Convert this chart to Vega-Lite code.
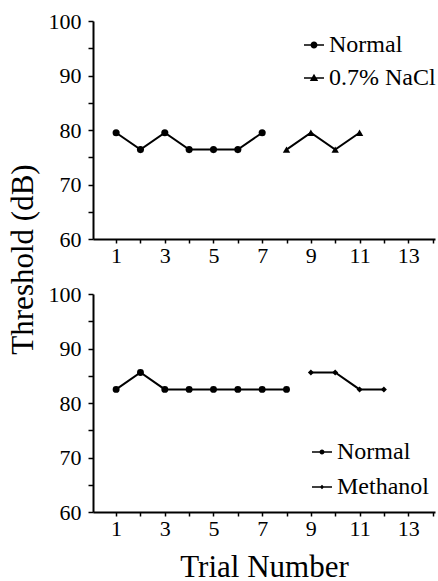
{
  "$schema": "https://vega.github.io/schema/vega-lite/v6.json",
  "padding": {"left": 7, "top": 10, "right": 0, "bottom": 0},
  "bounds": "flush",
  "spacing": 55,
  "background": "white",
  "config": {
    "font": "Liberation Serif",
    "view": {"stroke": null},
    "axis": {
      "labelFont": "Liberation Serif", "labelFontSize": 22, "labelColor": "black",
      "titleFont": "Liberation Serif", "titleFontSize": 31, "titleFontWeight": "normal", "titleColor": "black",
      "domainColor": "black", "domainWidth": 2, "tickColor": "black", "tickWidth": 1.5, "grid": false
    },
    "legend": {
      "labelFont": "Liberation Serif", "labelFontSize": 24, "labelColor": "black",
      "title": null, "orient": "none", "symbolSize": 400, "labelOffset": 3,
      "symbolFillColor": "black", "symbolOpacity": 1
    }
  },
  "datasets": {
    "d": [
      {"panel": "A", "series": "Normal", "trial": 1, "threshold": 79.5},
      {"panel": "A", "series": "Normal", "trial": 2, "threshold": 76.4},
      {"panel": "A", "series": "Normal", "trial": 3, "threshold": 79.5},
      {"panel": "A", "series": "Normal", "trial": 4, "threshold": 76.4},
      {"panel": "A", "series": "Normal", "trial": 5, "threshold": 76.4},
      {"panel": "A", "series": "Normal", "trial": 6, "threshold": 76.4},
      {"panel": "A", "series": "Normal", "trial": 7, "threshold": 79.5},
      {"panel": "A", "series": "0.7% NaCl", "trial": 8, "threshold": 76.4},
      {"panel": "A", "series": "0.7% NaCl", "trial": 9, "threshold": 79.5},
      {"panel": "A", "series": "0.7% NaCl", "trial": 10, "threshold": 76.4},
      {"panel": "A", "series": "0.7% NaCl", "trial": 11, "threshold": 79.5},
      {"panel": "B", "series": "Normal", "trial": 1, "threshold": 82.5},
      {"panel": "B", "series": "Normal", "trial": 2, "threshold": 85.6},
      {"panel": "B", "series": "Normal", "trial": 3, "threshold": 82.5},
      {"panel": "B", "series": "Normal", "trial": 4, "threshold": 82.5},
      {"panel": "B", "series": "Normal", "trial": 5, "threshold": 82.5},
      {"panel": "B", "series": "Normal", "trial": 6, "threshold": 82.5},
      {"panel": "B", "series": "Normal", "trial": 7, "threshold": 82.5},
      {"panel": "B", "series": "Normal", "trial": 8, "threshold": 82.5},
      {"panel": "B", "series": "Methanol", "trial": 9, "threshold": 85.6},
      {"panel": "B", "series": "Methanol", "trial": 10, "threshold": 85.6},
      {"panel": "B", "series": "Methanol", "trial": 11, "threshold": 82.5},
      {"panel": "B", "series": "Methanol", "trial": 12, "threshold": 82.5}
    ]
  },
  "vconcat": [
    {
      "width": 342, "height": 218,
      "data": {"name": "d"},
      "transform": [{"filter": "datum.panel == 'A'"}],
      "encoding": {
        "x": {"field": "trial", "type": "quantitative",
          "scale": {"domain": [0.05, 14.1], "nice": false, "zero": false},
          "axis": {"values": [1,2,3,4,5,6,7,8,9,10,11,12,13,14], "labelExpr": "datum.value % 2 == 1 ? datum.label : ''", "tickSize": 4, "labelPadding": 2, "title": null, "labelFlush": false, "labelOverlap": false}},
        "y": {"field": "threshold", "type": "quantitative",
          "scale": {"domain": [60, 100], "nice": false, "zero": false},
          "axis": {"values": [60,65,70,75,80,85,90,95,100], "labelExpr": "datum.value % 10 == 0 ? datum.label : ''", "tickSize": 5, "labelPadding": 7, "title": "Threshold (dB)", "titleAngle": -90, "titleX": -61, "titleY": 238, "titleBaseline": "alphabetic", "titleAlign": "center", "labelOverlap": false}}
      },
      "layer": [
        {"mark": {"type": "line", "color": "black", "strokeWidth": 2},
         "encoding": {"detail": {"field": "series", "type": "nominal"}}},
        {"transform": [{"filter": "datum.series == 'Normal'"}],
         "mark": {"type": "point", "shape": "circle", "filled": true, "color": "black", "opacity": 1, "size": 50}},
        {"transform": [{"filter": "datum.series == '0.7% NaCl'"}],
         "mark": {"type": "point", "shape": "triangle-up", "filled": true, "color": "black", "opacity": 1, "size": 55}},
        {"transform": [{"filter": "datum.trial < 0"}],
         "mark": {"type": "point", "filled": true, "color": "black", "opacity": 1},
         "encoding": {
           "shape": {"field": "series", "type": "nominal",
             "scale": {"domain": ["Normal", "0.7% NaCl"],
               "range": ["M-1,-0.08H1V0.08H-1ZM0.35,0A0.35,0.35,0,1,1,-0.35,0A0.35,0.35,0,1,1,0.35,0Z", "M-1,-0.08H1V0.08H-1ZM0,-0.42L0.42,0.3L-0.42,0.3Z"]},
             "legend": {"legendX": 209, "legendY": 12, "rowPadding": 9}}}}
      ]
    },
    {
      "width": 342, "height": 218,
      "data": {"name": "d"},
      "transform": [{"filter": "datum.panel == 'B'"}],
      "encoding": {
        "x": {"field": "trial", "type": "quantitative",
          "scale": {"domain": [0.05, 14.1], "nice": false, "zero": false},
          "axis": {"values": [1,2,3,4,5,6,7,8,9,10,11,12,13,14], "labelExpr": "datum.value % 2 == 1 ? datum.label : ''", "tickSize": 4, "labelPadding": 2, "title": "Trial Number", "titleY": 64, "titleBaseline": "alphabetic", "labelFlush": false, "labelOverlap": false}},
        "y": {"field": "threshold", "type": "quantitative",
          "scale": {"domain": [60, 100], "nice": false, "zero": false},
          "axis": {"values": [60,65,70,75,80,85,90,95,100], "labelExpr": "datum.value % 10 == 0 ? datum.label : ''", "tickSize": 5, "labelPadding": 7, "title": null, "labelOverlap": false}}
      },
      "layer": [
        {"mark": {"type": "line", "color": "black", "strokeWidth": 2},
         "encoding": {"detail": {"field": "series", "type": "nominal"}}},
        {"transform": [{"filter": "datum.series == 'Normal'"}],
         "mark": {"type": "point", "shape": "circle", "filled": true, "color": "black", "opacity": 1, "size": 48}},
        {"transform": [{"filter": "datum.series == 'Methanol'"}],
         "mark": {"type": "point", "shape": "diamond", "filled": true, "color": "black", "opacity": 1, "size": 36}},
        {"transform": [{"filter": "datum.trial < 0"}],
         "mark": {"type": "point", "filled": true, "color": "black", "opacity": 1},
         "encoding": {
           "shape": {"field": "series", "type": "nominal",
             "scale": {"domain": ["Normal", "Methanol"],
               "range": ["M-1,-0.08H1V0.08H-1ZM0.25,0A0.25,0.25,0,1,1,-0.25,0A0.25,0.25,0,1,1,0.25,0Z", "M-1,-0.08H1V0.08H-1ZM0,-0.22L0.22,0L0,0.22L-0.22,0Z"]},
             "legend": {"legendX": 217, "legendY": 146, "rowPadding": 11}}}}
      ]
    }
  ],
  "resolve": {"scale": {"shape": "independent", "x": "independent", "y": "independent"}, "legend": {"shape": "independent"}}
}
